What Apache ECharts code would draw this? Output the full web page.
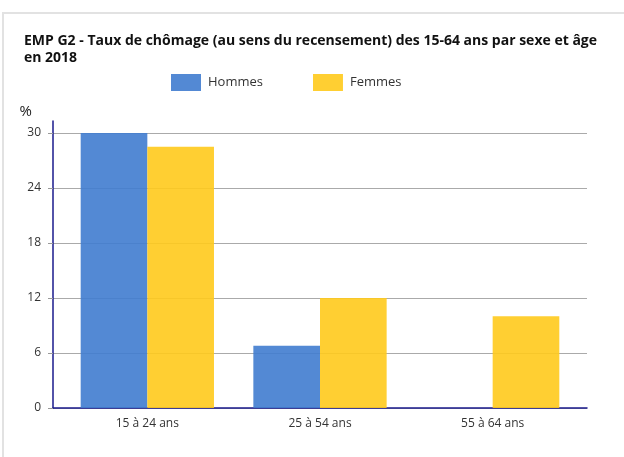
<!DOCTYPE html>
<html>
<head>
<meta charset="utf-8">
<script src="https://cdn.jsdelivr.net/npm/echarts@6/dist/echarts.min.js"></script>
<style>
  html, body { margin: 0; padding: 0; background: #fff; overflow: hidden; }
  #frame {
    position: absolute; left: 2px; top: 12px; width: 660px; height: 470px;
    border: 2px solid #e2e2e2; box-sizing: border-box;
  }
  #chart { position: absolute; left: 0; top: 0; width: 624px; height: 457px; }
</style>
</head>
<body>
<div id="frame"></div>
<div id="chart"></div>
<script>
// categories and values
var categories = ["15 à 24 ans", "25 à 54 ans", "55 à 64 ans"];
var hommes = [30.0, 6.8, 0];
var femmes = [28.5, 12.0, 10.0];
var yTicks = [0, 6, 12, 18, 24, 30];

var chart = echarts.init(document.getElementById("chart"));

var option = {
  animation: false,
  textStyle: { fontFamily: "Open Sans" },
  title: {
    text: "EMP G2 - Taux de chômage (au sens du recensement) des 15-64 ans par sexe et âge\nen 2018",
    left: 19,
    top: 28,
    textStyle: {
      fontFamily: "Open Sans",
      fontSize: 14,
      fontWeight: "bold",
      color: "#111",
      lineHeight: 17
    }
  },
  legend: {
    left: 166,
    top: 69,
    itemWidth: 30,
    itemHeight: 17,
    itemGap: 50,
    icon: "rect",
    textStyle: { fontSize: 13, color: "#333", padding: [0, 0, 0, 2] },
    data: ["Hommes", "Femmes"]
  },
  // grid 0 carries the frame axes and gridlines, grid 1 the bars
  grid: [
    { left: 53, right: 37, top: 121, bottom: 49 },
    { left: 61, right: 45, top: 133, bottom: 49 }
  ],
  xAxis: [
    {
      type: "category",
      gridIndex: 0,
      data: categories,
      axisLine: { lineStyle: { color: "#1a1a8c", width: 1.5 } },
      axisTick: { show: false },
      axisLabel: { show: false }
    },
    {
      type: "category",
      gridIndex: 1,
      data: categories,
      axisLine: { show: false },
      axisTick: { show: false },
      axisLabel: { fontSize: 12, color: "#333", margin: 10 }
    }
  ],
  yAxis: [
    {
      type: "value",
      gridIndex: 0,
      min: 0,
      max: 30 + 12 * 6 / 55,
      name: "%",
      nameLocation: "end",
      nameGap: 2,
      nameTextStyle: { fontSize: 15, color: "#222", align: "right", padding: [0, 21, 0, 0] },
      axisLine: { show: true, lineStyle: { color: "#1a1a8c", width: 1.5 } },
      axisTick: { show: true, length: 5, customValues: yTicks, lineStyle: { color: "#999" } },
      axisLabel: { fontSize: 12, color: "#333", margin: 12, customValues: yTicks },
      splitLine: { lineStyle: { color: "#aaa" } }
    },
    {
      type: "value",
      gridIndex: 1,
      min: yTicks[0],
      max: yTicks[yTicks.length - 1],
      interval: 6,
      show: false
    }
  ],
  series: [
    {
      name: "Hommes",
      type: "bar",
      xAxisIndex: 1,
      yAxisIndex: 1,
      data: hommes,
      barGap: "0%",
      barCategoryGap: "22.8%",
      itemStyle: { color: "#407ccf", opacity: 0.9 }
    },
    {
      name: "Femmes",
      type: "bar",
      xAxisIndex: 1,
      yAxisIndex: 1,
      data: femmes,
      itemStyle: { color: "#ffca1c", opacity: 0.9 }
    }
  ]
};

chart.setOption(option);
</script>
</body>
</html>
